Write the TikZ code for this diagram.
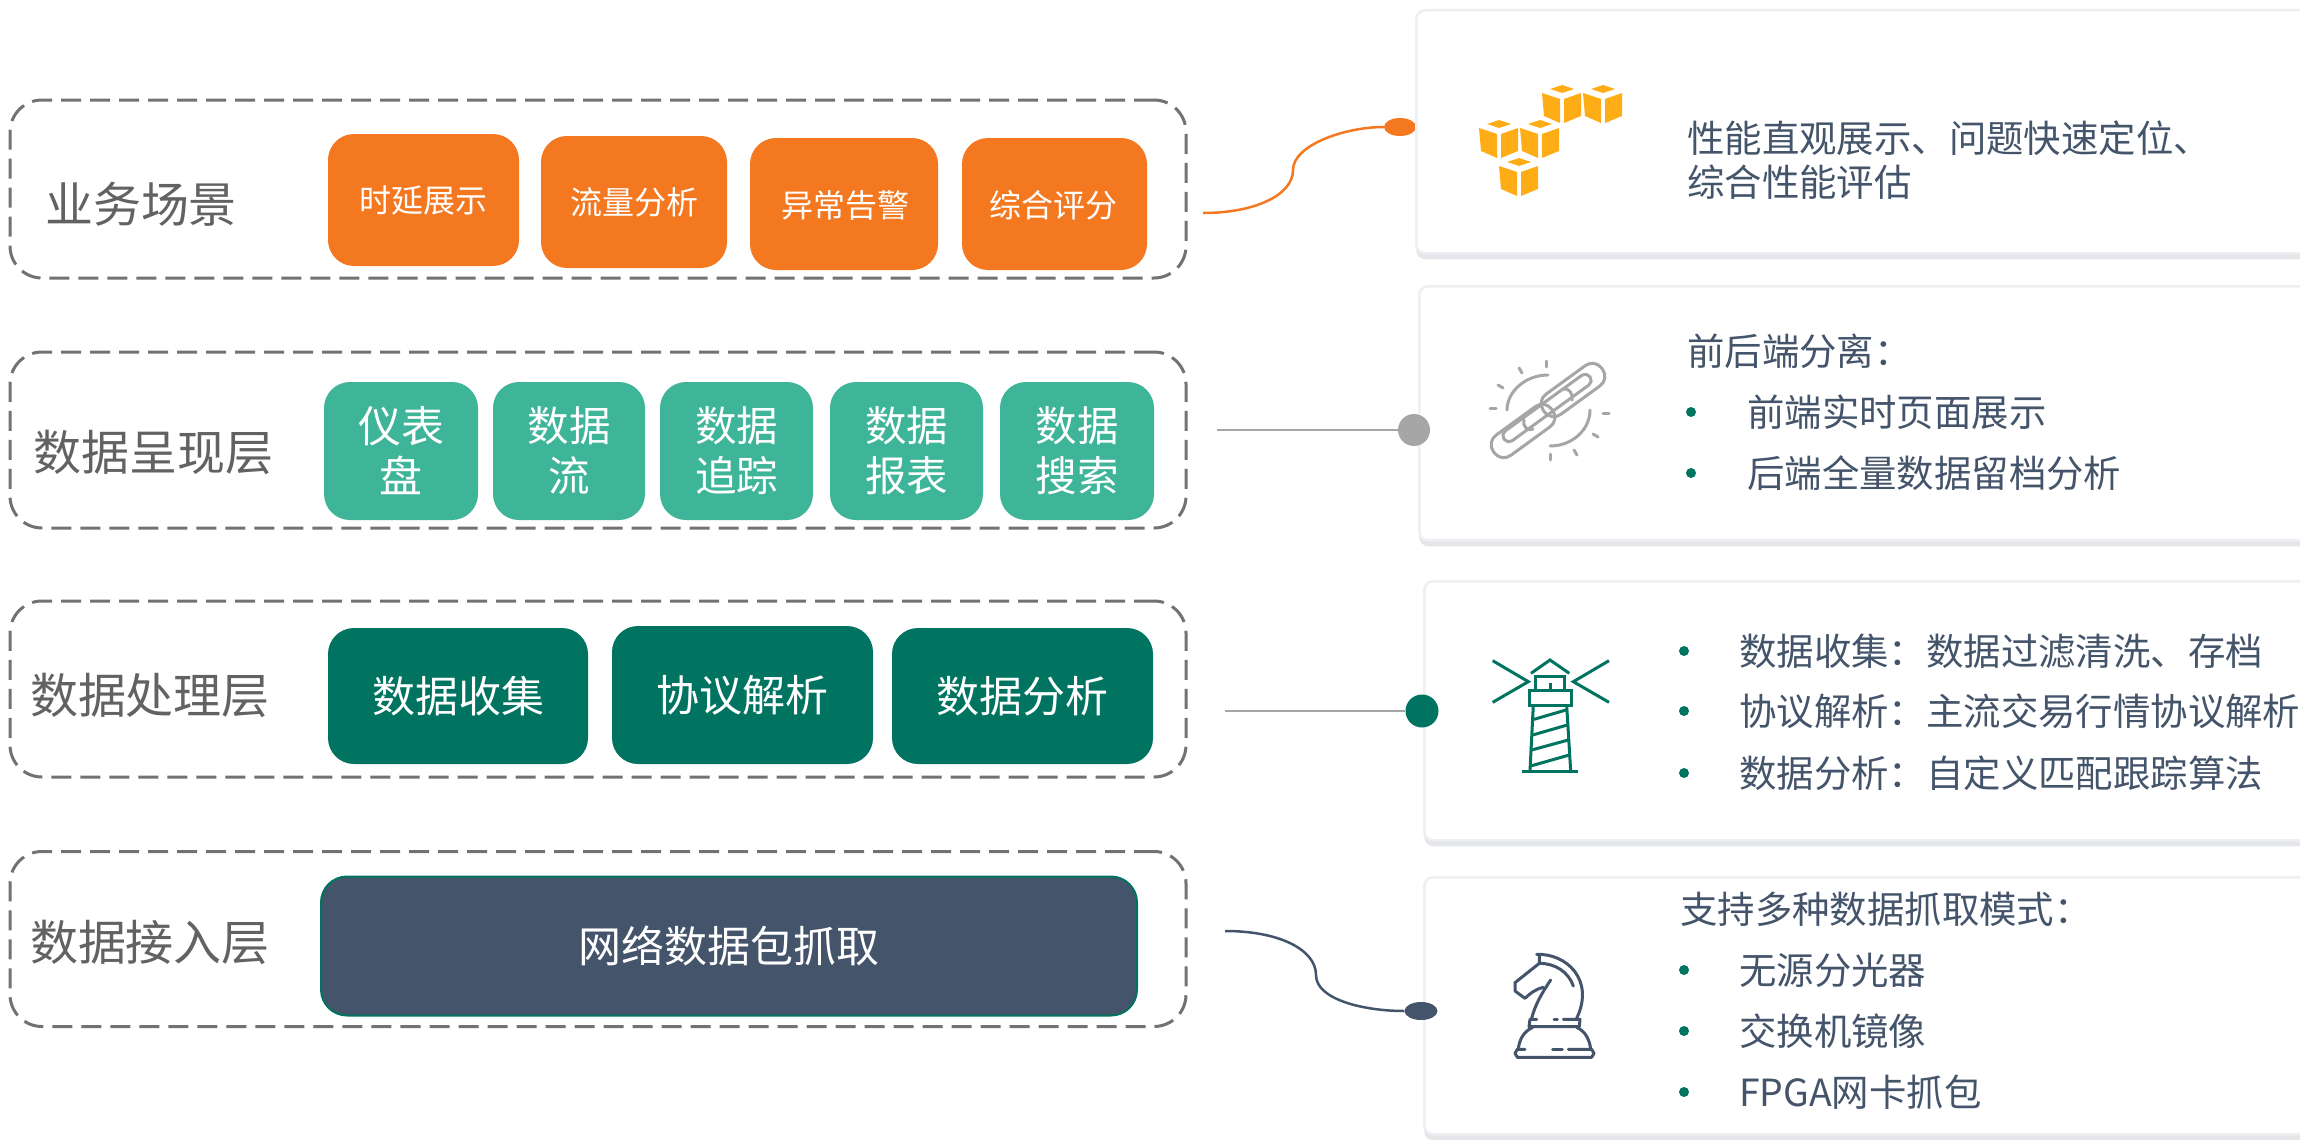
\documentclass[tikz,border=0pt]{standalone}
\usepackage{fontspec}
\setmainfont{Noto Sans CJK SC}
\usetikzlibrary{shadows,shapes.geometric}
\definecolor{cOrange}{HTML}{F47820}
\definecolor{cTeal}{HTML}{3EB498}
\definecolor{cGreen}{HTML}{007460}
\definecolor{cNavy}{HTML}{44546A}
\definecolor{cDash}{HTML}{767171}
\definecolor{cLabel}{HTML}{626262}
\definecolor{cGrey}{HTML}{A6A6A6}
\definecolor{cGold}{HTML}{FFAD16}
\definecolor{cCard}{HTML}{EDEFF3}
\definecolor{cShadow}{HTML}{E4E6EA}
\tikzset{
  x=1pt,y=-1pt,
  layerbox/.style={draw=cDash,line width=3pt,dash pattern=on 20pt off 9pt,rounded corners=32pt,inner sep=0pt},
  label/.style={text=cLabel,font=\fontsize{48}{52}\selectfont,inner sep=0pt},
  chip/.style={rounded corners=26pt,text=white,align=center,inner sep=0pt},
  orangechip/.style={chip,fill=cOrange},
  orangetext/.style={text=white,font=\fontsize{32}{36}\selectfont,inner sep=0pt},
  tealchip/.style={chip,fill=cTeal,font=\fontsize{41.5}{50}\selectfont},
  greenchip/.style={chip,fill=cGreen,font=\fontsize{43}{48}\selectfont},
  navychip/.style={chip,fill=cNavy,draw=cGreen,line width=2pt,font=\fontsize{43}{48}\selectfont},
  card/.style={draw=cCard,line width=2.5pt,fill=white,rounded corners=9pt,inner sep=0pt,anchor=north west,
    drop shadow={shadow xshift=0pt,shadow yshift=-6pt,fill=cShadow,opacity=1}},
  info/.style={text=cNavy,font=\fontsize{37.4}{42}\selectfont,anchor=west,inner sep=0pt,align=left},
  bul/.style={circle,fill=cGreen,inner sep=0pt,minimum width=10pt},
  conn/.style={line width=2.5pt},
  icon/.style={line cap=round,line join=round},
}
\newcommand{\awscube}[2]{%
  \begin{scope}[shift={(#1,#2)}]
    \fill[cGold] (-12,0) -- (0,-4) -- (12,0) -- (0,4) -- cycle;
    \fill[cGold] (-20,4) -- (-2,10) -- (-2,34) -- (-18,27) -- cycle;
    \fill[cGold] (2,10) -- (19,4) -- (19,27) -- (2,34) -- cycle;
  \end{scope}}
\begin{document}
\begin{tikzpicture}
\useasboundingbox (0,0) rectangle (2300,1140);
\fill[white] (0,0) rectangle (2300,1140);

% layer frames
\node[layerbox,minimum width=1176pt,minimum height=178pt] (L1) at (598,189) {};
\node[layerbox,minimum width=1176pt,minimum height=176pt] (L2) at (598,440) {};
\node[layerbox,minimum width=1176pt,minimum height=176pt] (L3) at (598,689) {};
\node[layerbox,minimum width=1176pt,minimum height=175pt] (L4) at (598,939) {};

\node[label] (t1) at (141,204) {业务场景};
\node[label] (t2) at (154,452) {数据呈现层};
\node[label] (t3) at (150,695) {数据处理层};
\node[label] (t4) at (150,942) {数据接入层};

% orange chips
\node[orangechip,minimum width=191pt,minimum height=132pt] (a1) at (423.5,200) {};
\node[orangechip,minimum width=186pt,minimum height=132pt] (a2) at (634,202) {};
\node[orangechip,minimum width=188pt,minimum height=132pt] (a3) at (844,204) {};
\node[orangechip,minimum width=185pt,minimum height=132pt] (a4) at (1054.5,204) {};
\node[orangetext] (a1t) at (423,201) {时延展示};
\node[orangetext] (a2t) at (634,202) {流量分析};
\node[orangetext] (a3t) at (845,205) {异常告警};
\node[orangetext] (a4t) at (1053,205) {综合评分};

% teal chips
\node[tealchip,minimum width=154pt,minimum height=138pt,font=\fontsize{43}{50}\selectfont] (b1) at (401,451) {仪表\\盘};
\node[tealchip,minimum width=152pt,minimum height=138pt] (b2) at (569,451) {数据\\流};
\node[tealchip,minimum width=153pt,minimum height=138pt] (b3) at (736.5,451) {数据\\追踪};
\node[tealchip,minimum width=153pt,minimum height=138pt] (b4) at (906.5,451) {数据\\报表};
\node[tealchip,minimum width=154pt,minimum height=138pt] (b5) at (1077,451) {数据\\搜索};

% green chips
\node[greenchip,minimum width=260pt,minimum height=136pt] (c1) at (458,696) {数据收集};
\node[greenchip,minimum width=261pt,minimum height=138pt] (c2) at (742.5,695) {协议解析};
\node[greenchip,minimum width=261pt,minimum height=136pt] (c3) at (1022.5,696) {数据分析};

% navy chip
\node[navychip,minimum width=816pt,minimum height=139pt] (d1) at (729,946) {网络数据包抓取};

% connector under the first card
\node[ellipse,fill=cOrange,minimum width=32pt,minimum height=18pt,inner sep=0pt] at (1400,127) (p1) {};
\coordinate (s1) at (1203,213);
\coordinate (m1) at (1293,170);
\draw[conn,cOrange] (s1) .. controls (1255,213) and (1293,195) .. (m1) .. controls (1293,145) and (1345,127) .. (p1.west);

% cards
\node[card,minimum width=900pt,minimum height=243pt] (k1) at (1415,9) {};
\node[card,minimum width=900pt,minimum height=254pt] (k2) at (1418,285) {};
\node[card,minimum width=900pt,minimum height=259pt] (k3) at (1423,580) {};
\node[card,minimum width=900pt,minimum height=257pt] (k4) at (1423,876) {};

% remaining connectors
\node[circle,fill=cGrey,minimum width=32pt,inner sep=0pt] (p2) at (1414,430) {};
\node[circle,fill=cGreen,minimum width=33pt,inner sep=0pt] (p3) at (1422,711) {};
\node[ellipse,fill=cNavy,minimum width=33pt,minimum height=18pt,inner sep=0pt] (p4) at (1421,1011) {};
\coordinate (s2) at (1217,430);
\coordinate (s3) at (1225,711);
\coordinate (s4) at (1225,931);
\coordinate (m4) at (1316,975);
\draw[conn,cGrey] (s2) -- (p2);
\draw[conn,cGrey] (s3) -- (p3);
\draw[conn,cNavy] (s4) .. controls (1280,931) and (1316,950) .. (m4) .. controls (1316,1000) and (1365,1011) .. (p4.west);

% card 1 text
\node[info] (i11) at (1687,138) {性能直观展示、问题快速定位、};
\node[info] (i12) at (1687,182) {综合性能评估};
% card 2 text
\node[info] (i21) at (1687,351) {前后端分离：};
\node[bul] (u22) at (1691,412) {};
\node[info] (i22) at (1747,412) {前端实时页面展示};
\node[bul] (u23) at (1691,473) {};
\node[info] (i23) at (1747,473) {后端全量数据留档分析};
% card 3 text
\node[bul] (u31) at (1684,651) {};
\node[info] (i31) at (1739,651) {数据收集：数据过滤清洗、存档};
\node[bul] (u32) at (1684,711) {};
\node[info] (i32) at (1739,711) {协议解析：主流交易行情协议解析};
\node[bul] (u33) at (1684,773) {};
\node[info] (i33) at (1739,773) {数据分析：自定义匹配跟踪算法};
% card 4 text
\node[info] (i41) at (1680,909) {支持多种数据抓取模式：};
\node[bul] (u42) at (1684,970) {};
\node[info] (i42) at (1739,970) {无源分光器};
\node[bul] (u43) at (1684,1031) {};
\node[info] (i43) at (1739,1031) {交换机镜像};
\node[bul] (u44) at (1684,1092) {};
\node[info] (i44) at (1739,1092) {FPGA网卡抓包};

% cubes icon
\awscube{1562}{89}
\awscube{1603}{89}
\awscube{1499}{124}
\awscube{1540}{124}
\awscube{1519}{162}

% link icon
\begin{scope}[draw=cGrey,line width=3pt,icon]
  \draw[rotate around={36:(1573,390)},rounded corners=11.5pt] (1537,377.5) rectangle (1609,402.5);
  \draw[rotate around={36:(1523,431)},rounded corners=11.5pt] (1487,418.5) rectangle (1559,443.5);
  \draw[rotate around={36:(1547,408)},rounded corners=5.5pt] (1494,402) rectangle (1600,414);
  \draw (1563,389) .. controls (1568,387) and (1574,394) .. (1572,400);
  \draw (1524,420) .. controls (1522,426) and (1528,432) .. (1533,429);
  \draw (1548,375) .. controls (1525,375) and (1507,392) .. (1507,410);
  \draw (1590,410) .. controls (1590,430) and (1572,446) .. (1550,446);
  \draw (1546,361) -- (1546,367);
  \draw (1519,368) -- (1522,373);
  \draw (1498,385) -- (1503,388);
  \draw (1490,408) -- (1496,408);
  \draw (1603,413) -- (1609,413);
  \draw (1593,434) -- (1598,437);
  \draw (1574,450) -- (1577,455);
  \draw (1550,454) -- (1550,460);
\end{scope}

% lighthouse icon
\begin{scope}[shift={(1470,640)},x=0.3333pt,y=-0.3333pt,draw=cGreen,line width=3pt]
  \draw (68,62) -- (175,125) -- (68,187);
  \draw (417,62) -- (310,125) -- (417,187);
  \draw (183,100) -- (240,60) -- (298,100);
  \draw (197,150) -- (197,108) -- (283,108) -- (283,150);
  \draw (240,128) -- (240,150);
  \draw (178,150) rectangle (305,195);
  \draw (190,195) -- (180,392);
  \draw (290,195) -- (302,392);
  \draw (155,395) -- (325,395);
  \draw (192,238) -- (288,210);
  \draw (188,285) -- (292,255);
  \draw (185,330) -- (295,300);
  \draw (182,378) -- (298,345);
\end{scope}

% knight icon
\begin{scope}[shift={(1480,930)},x=0.3333pt,y=-0.3333pt,draw=cNavy,line width=3pt,icon]
  \draw (170,73) .. controls (260,70) and (345,150) .. (290,265);
  \draw (178,100) .. controls (225,100) and (265,125) .. (280,168);
  \draw (178,75) -- (178,100) -- (105,158) -- (105,183) -- (135,205) .. controls (155,185) and (175,175) .. (190,172);
  \draw (212,150) .. controls (185,190) and (165,225) .. (155,265);
  \draw (170,268) -- (150,268) -- (147,290) -- (298,290) -- (300,268) -- (250,268);
  \draw (222,268) -- (232,268);
  \draw (158,292) .. controls (130,305) and (118,330) .. (115,356);
  \draw (290,292) .. controls (318,305) and (328,330) .. (332,356);
  \draw (135,358) -- (112,358) -- (105,370) -- (112,382) -- (335,382) -- (342,370) -- (335,358) -- (265,358);
  \draw (218,358) -- (247,358);
\end{scope}
\end{tikzpicture}
\end{document}
